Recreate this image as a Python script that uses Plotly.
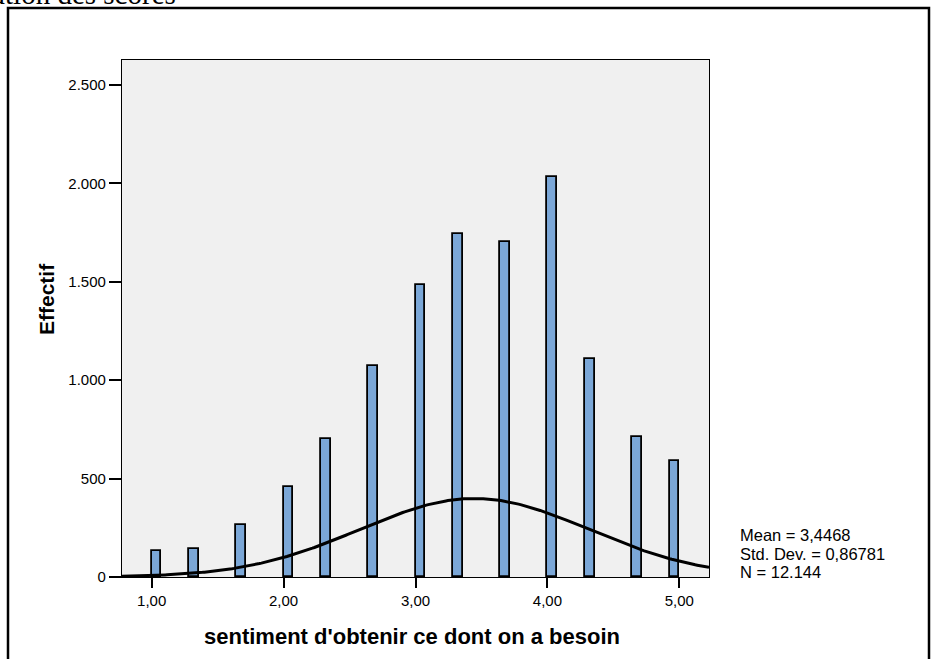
import numpy as np
import plotly.graph_objects as go

# Data
values = [1.0, 4/3, 5/3, 2.0, 7/3, 8/3, 3.0, 10/3, 11/3, 4.0, 13/3, 14/3, 5.0]
counts = [134, 144, 264, 459, 701, 1072, 1484, 1743, 1702, 2033, 1108, 711, 589]
x_ticks = [1, 2, 3, 4, 5]
y_ticks = [0, 500, 1000, 1500, 2000, 2500]
mean_v, sd_v, n_v = 3.4468, 0.86781, 12144
stats_lines = ["Mean = 3,4468", "Std. Dev. = 0,86781", "N = 12.144"]
x_title = "sentiment d'obtenir ce dont on a besoin"
y_title = "Effectif"
top_text = "Distribution des scores"

# binning (SPSS style, 14 bins per unit starting at 1)
bw = 1 / 14
bin_left = []
for v in values:
    k = int(np.floor((v - 1) / bw + 1e-9))
    k = min(k, 55)
    bin_left.append(1 + k * bw)

xr = [0.775, 5.225]
yr = [0, 2627]

fig = go.Figure()
fig.add_trace(go.Bar(
    x=bin_left, y=counts, width=bw, offset=0,
    marker=dict(color="#7ba7d7", line=dict(color="black", width=1.8)),
    showlegend=False, hoverinfo="skip"))

xs = np.linspace(xr[0], xr[1], 300)
ys = n_v * bw / (sd_v * np.sqrt(2 * np.pi)) * np.exp(-0.5 * ((xs - mean_v) / sd_v) ** 2)
fig.add_trace(go.Scatter(x=xs, y=ys, mode="lines", line=dict(color="black", width=3),
                         showlegend=False, hoverinfo="skip"))

L, R, T, B = 122, 222, 60, 82
W, H = 931, 659
pw, ph = W - L - R, H - T - B

def px_x(p):
    return (p - L) / pw

def px_y(p):
    return (H - B - p) / ph

fig.update_layout(
    width=W, height=H,
    margin=dict(l=L, r=R, t=T, b=B),
    paper_bgcolor="white", plot_bgcolor="#f0f0f0",
    separators=",.",
    font=dict(family="Liberation Sans, Arial, sans-serif", color="black", size=15),
    bargap=0,
    xaxis=dict(range=xr, tickvals=x_ticks, tickformat=".2f", showgrid=False, zeroline=False,
               showline=True, linecolor="black", linewidth=1.2, mirror=True,
               ticks="outside", ticklen=10, tickwidth=1.5, tickcolor="black",
               tickfont=dict(size=15)),
    yaxis=dict(range=yr, tickvals=y_ticks, tickformat=",d", showgrid=False, zeroline=False,
               showline=True, linecolor="black", linewidth=1.2, mirror=True,
               ticks="outside", ticklen=12, tickwidth=1.5, tickcolor="black",
               tickfont=dict(size=15)),
)

# outer frame
fig.add_shape(type="rect", xref="paper", yref="paper",
              x0=px_x(8), x1=px_x(929), y0=px_y(8), y1=px_y(720),
              line=dict(color="black", width=2.5), fillcolor="rgba(0,0,0,0)", layer="below")

# axis titles
fig.add_annotation(text=f"<b>{x_title}</b>", xref="paper", yref="paper",
                   x=px_x(412), y=px_y(636), xanchor="center", yanchor="middle",
                   showarrow=False, font=dict(size=22))
fig.add_annotation(text=f"<b>{y_title}</b>", xref="paper", yref="paper",
                   x=px_x(46), y=px_y(299), xanchor="center", yanchor="middle",
                   textangle=-90, showarrow=False, font=dict(size=21))

# stats (one annotation per line)
for i, line in enumerate(stats_lines):
    fig.add_annotation(text=line, xref="paper", yref="paper",
                       x=px_x(738), y=px_y(535 + 18.5 * i), xanchor="left", yanchor="middle",
                       align="left", showarrow=False, font=dict(size=16.5))

# cut-off top text
fig.add_annotation(text=top_text, xref="paper", yref="paper",
                   x=px_x(178), y=px_y(12), xanchor="right", yanchor="bottom",
                   showarrow=False,
                   font=dict(family="Liberation Serif, Times New Roman, serif", size=29))

fig.write_html("out.html")
